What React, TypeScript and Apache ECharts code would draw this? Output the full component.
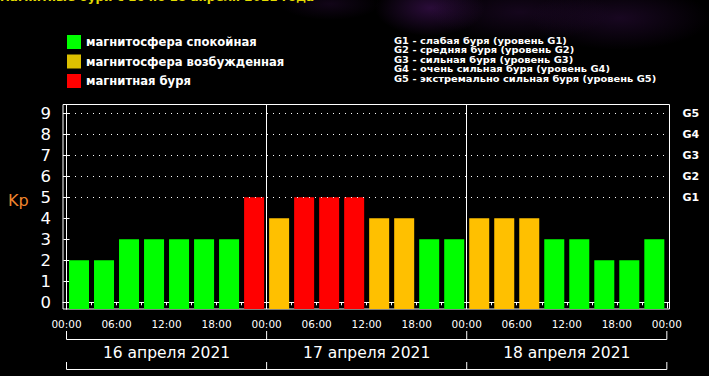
import React, { useEffect, useRef } from "react";
import * as echarts from "echarts";

const titleText = "магнитные бури с 16 по 18 апреля 2021 года";
const days = ["16 апреля 2021", "17 апреля 2021", "18 апреля 2021"];
const slotStartHours = [
  0, 3, 6, 9, 12, 15, 18, 21,
  24, 27, 30, 33, 36, 39, 42, 45,
  48, 51, 54, 57, 60, 63, 66, 69,
];
const kpValues = [
  2, 2, 3, 3, 3, 3, 3, 5,
  4, 5, 5, 5, 4, 4, 3, 3,
  4, 4, 4, 3, 3, 2, 2, 3,
];
const xTickHours = [0, 3, 6, 9, 12, 15, 18, 21, 24, 27, 30, 33, 36, 39, 42, 45, 48, 51, 54, 57, 60, 63, 66, 69, 72];
const xLabelHours = [0, 6, 12, 18, 24, 30, 36, 42, 48, 54, 60, 66, 72];
const dayBoundaryHours = [0, 24, 48, 72];
const yTicks = [0, 1, 2, 3, 4, 5, 6, 7, 8, 9];
const gLevels = [5, 6, 7, 8, 9];
const gLabels = ["G1", "G2", "G3", "G4", "G5"];
const legendNames = ["магнитосфера спокойная", "магнитосфера возбужденная", "магнитная буря"];
const barColors = ["#00ff00", "#ffc000", "#ff0000"];
const legendColors = ["#00ff00", "#dcc000", "#ff0000"];
const stormLines = [
  "G1 - слабая буря (уровень G1)",
  "G2 - средняя буря (уровень G2)",
  "G3 - сильная буря (уровень G3)",
  "G4 - очень сильная буря (уровень G4)",
  "G5 - экстремально сильная буря (уровень G5)",
];

const Y_MIN = -0.32;
const Y_MAX = 9.42;
const X_MIN = -0.42;
const X_MAX = 72.32;
const FONT = "DejaVu Sans";

function category(kp: number) {
  if (kp >= 5) return 2;
  if (kp >= 4) return 1;
  return 0;
}

function pad(n: number) {
  return (n < 10 ? "0" : "") + n;
}

export default function App() {
  const ref = useRef<HTMLDivElement>(null);
  useEffect(() => {
    document.body.style.margin = "0";
    document.body.style.background = "#000";
    const chart = echarts.init(ref.current!, null, { renderer: "svg" });

    const series: any[] = legendNames.map((name, c) => ({
      type: "custom",
      name,
      itemStyle: { color: barColors[c] },
      encode: { x: 0, y: 1 },
      data: kpValues
        .map((v, i) => [slotStartHours[i], v])
        .filter((d) => category(d[1]) === c),
      renderItem: (params: any, api: any) => {
        const start = api.value(0);
        const v = api.value(1);
        const p0 = api.coord([start + 0.3, v]);
        const p1 = api.coord([start + 2.7, Y_MIN]);
        return {
          type: "rect",
          shape: { x: p0[0], y: p0[1], width: p1[0] - p0[0], height: p1[1] - p0[1] },
          style: { fill: barColors[c] },
        };
      },
    }));

    series.push({
      type: "line",
      name: "lines",
      data: [],
      markLine: {
        silent: true,
        symbol: "none",
        label: { show: false },
        animation: false,
        data: [
          ...gLevels.map((y) => ({ yAxis: y, lineStyle: { color: "#ffffff", type: [1, 5], width: 1 } })),
          ...dayBoundaryHours.slice(1, -1).map((x) => ({ xAxis: x, lineStyle: { color: "#ffffff", type: "solid", width: 1 } })),
        ],
      },
    });

    const option: any = {
      animation: false,
      backgroundColor: "#000",
      grid: {
        left: 63,
        right: 39.5,
        top: 104.5,
        bottom: 67,
        show: true,
        borderColor: "#ffffff",
        borderWidth: 1,
        backgroundColor: "transparent",
      },
      legend: {
        orient: "vertical",
        left: 67,
        top: 35,
        itemWidth: 14,
        itemHeight: 14,
        itemGap: 5.5,
        padding: 0,
        icon: "rect",
        selectedMode: false,
        textStyle: { color: "#ffffff", fontSize: 11.6, fontWeight: "bold", fontFamily: FONT },
        data: legendNames.map((n, i) => ({ name: n, itemStyle: { color: legendColors[i] } })),
      },
      xAxis: [
        {
          type: "value",
          min: X_MIN,
          max: X_MAX,
          position: "bottom",
          axisLine: { show: true, lineStyle: { color: "#ffffff", width: 1 } },
          axisTick: { show: true, length: 3, customValues: xTickHours, lineStyle: { color: "#ffffff" } },
          axisLabel: {
            customValues: xLabelHours,
            color: "#ffffff",
            fontSize: 10.5,
            fontFamily: FONT,
            margin: 9,
            formatter: (v: number) => pad(Math.round(v) % 24) + ":00",
          },
          splitLine: { show: false },
        },
        {
          type: "value",
          min: X_MIN,
          max: X_MAX,
          position: "bottom",
          axisLine: { show: false },
          axisTick: { show: true, length: 6, customValues: dayBoundaryHours, lineStyle: { color: "#ffffff" } },
          axisLabel: { show: false },
          splitLine: { show: false },
        },
      ],
      yAxis: [
        {
          type: "value",
          min: Y_MIN,
          max: Y_MAX,
          position: "left",
          axisLine: { show: true, lineStyle: { color: "#ffffff", width: 1 } },
          axisTick: { show: true, length: 3, customValues: yTicks, lineStyle: { color: "#ffffff" } },
          axisLabel: {
            customValues: yTicks,
            color: "#ffffff",
            fontSize: 16.5,
            fontFamily: FONT,
            margin: 12,
          },
          splitLine: { show: false },
        },
        {
          type: "value",
          min: Y_MIN,
          max: Y_MAX,
          position: "right",
          axisLine: { show: true, lineStyle: { color: "#ffffff", width: 1 } },
          axisTick: { show: true, length: 3, customValues: yTicks, lineStyle: { color: "#ffffff" } },
          axisLabel: {
            customValues: gLevels,
            color: "#ffffff",
            fontSize: 11,
            fontWeight: "bold",
            fontFamily: FONT,
            margin: 13,
            formatter: (v: number) => gLabels[gLevels.indexOf(Math.round(v))] || "",
          },
          splitLine: { show: false },
        },
      ],
      series,
    };

    chart.setOption(option);

    const xs = dayBoundaryHours.map((h) => chart.convertToPixel({ xAxisIndex: 0 }, h) as number);
    const glow = (cx: number, cy: number, rx: number, ry: number, a: number) => ({
      type: "ellipse",
      silent: true,
      z: -10,
      shape: { cx, cy, rx, ry },
      style: {
        fill: new echarts.graphic.RadialGradient(0.5, 0.5, 0.5, [
          { offset: 0, color: `rgba(70,20,95,${a})` },
          { offset: 1, color: "rgba(70,20,95,0)" },
        ]),
      },
    });

    const bracket = (yTop: number, yLine: number) => [
      { type: "line", shape: { x1: xs[0], y1: yLine, x2: xs[xs.length - 1], y2: yLine }, style: { stroke: "#ffffff", lineWidth: 1 } },
      ...xs.map((x) => ({ type: "line", shape: { x1: x, y1: yTop, x2: x, y2: yLine }, style: { stroke: "#ffffff", lineWidth: 1 } })),
    ];

    const graphic: any[] = [
      glow(430, 8, 55, 28, 0.6),
      glow(520, 12, 90, 30, 0.3),
      glow(620, 18, 90, 32, 0.35),
      glow(330, 4, 50, 16, 0.25),
      {
        type: "text",
        x: 0,
        y: -3.5,
        style: { text: titleText, fill: "#e4dc00", fontSize: 12, fontWeight: "bold", fontFamily: FONT, verticalAlign: "middle" },
      },
      {
        type: "text",
        x: 8,
        y: 200,
        style: { text: "Kp", fill: "#f0852d", fontSize: 16, fontFamily: FONT, verticalAlign: "middle" },
      },
      ...stormLines.map((line, i) => ({
        type: "text",
        x: 394,
        y: 40.7 + i * 9.4,
        scaleX: 1.085,
        style: {
          text: line,
          fill: "#ffffff",
          fontSize: 9.1,
          fontWeight: "bold",
          fontFamily: FONT,
          verticalAlign: "middle",
        },
      })),
      ...bracket(331, 339.5),
      ...bracket(362, 369.5),
      ...days.map((d, i) => ({
        type: "text",
        x: (xs[i] + xs[i + 1]) / 2,
        y: 353,
        style: { text: d, fill: "#ffffff", fontSize: 15.5, fontFamily: FONT, align: "center", verticalAlign: "middle" },
      })),
    ];

    chart.setOption({ graphic });

    return () => chart.dispose();
  }, []);

  return <div ref={ref} style={{ width: 709, height: 376, background: "#000" }} />;
}
